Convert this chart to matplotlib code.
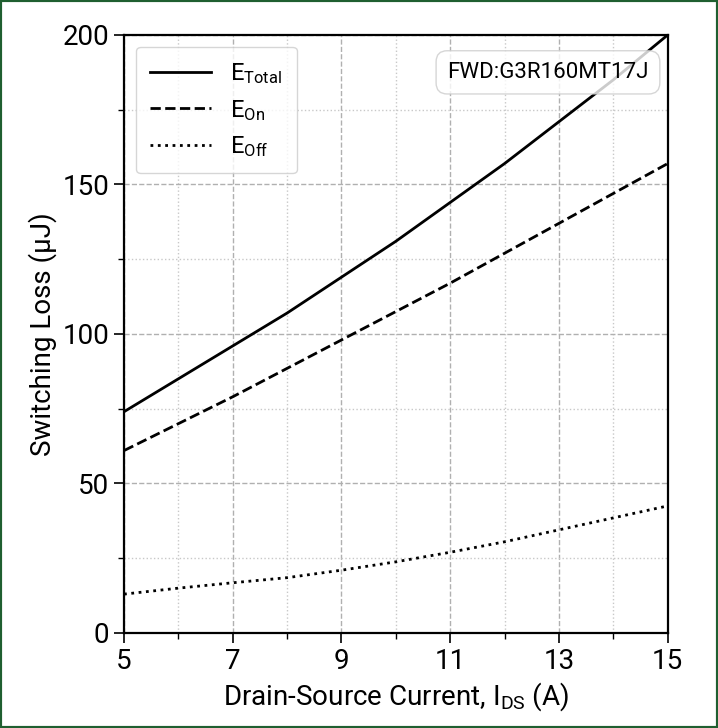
import matplotlib
matplotlib.use('Agg')
import matplotlib.pyplot as plt
from matplotlib.ticker import MultipleLocator
from matplotlib.patches import Rectangle

plt.rcParams['font.family'] = ['Liberation Sans Narrow', 'Roboto', 'DejaVu Sans']
plt.rcParams['mathtext.fontset'] = 'custom'
plt.rcParams['mathtext.rm'] = 'Roboto'
plt.rcParams['mathtext.it'] = 'Roboto'

# Daten ausgelesen
current = [5, 6, 7, 8, 9, 10, 11, 12, 13, 14, 15]
e_total = [74, 85, 96, 107, 119, 131, 144, 157, 171, 185, 200]
e_on = [61, 70, 79, 88.5, 98, 107.5, 117, 127, 137, 147, 157]
e_off = [13, 15, 16.8, 18.5, 21, 23.8, 27, 30.5, 34.5, 38.5, 42.5]
x_ticks = [5, 7, 9, 11, 13, 15]
device = 'FWD:G3R160MT17J'

fig = plt.figure(figsize=(7.18, 7.28), dpi=100)
ax = fig.add_axes([0.1727, 0.1305, 0.7573, 0.8215])

ax.plot(current, e_total, color='black', linestyle='-', linewidth=2, label=r'$\mathregular{E_{Total}}$')
ax.plot(current, e_on, color='black', linestyle='--', linewidth=2, label=r'$\mathregular{E_{On}}$')
ax.plot(current, e_off, color='black', linestyle=':', linewidth=2, label=r'$\mathregular{E_{Off}}$')

ax.set_xlim(5, 15)
ax.set_ylim(0, 200)
ax.set_xticks(x_ticks)
ax.set_xticks([6, 8, 10, 12, 14], minor=True)
ax.yaxis.set_major_locator(MultipleLocator(50))
ax.yaxis.set_minor_locator(MultipleLocator(25))
ax.tick_params(axis='both', which='major', labelsize=20, length=7, width=1.2)
ax.tick_params(axis='both', which='minor', length=4, width=1)
ax.grid(True, which='major', linestyle='--', color='#b0b0b0', linewidth=1)
ax.grid(True, which='minor', linestyle=':', color='#c8c8c8', linewidth=1)
for s in ax.spines.values():
    s.set_linewidth(1.6)

ax.set_xlabel(r'Drain-Source Current, $\mathregular{I_{DS}}$ (A)', fontsize=20)
ax.set_ylabel('Switching Loss (μJ)', fontsize=20)

ax.legend(loc='upper left', fontsize=17, handlelength=2.6, borderpad=0.6,
          labelspacing=0.5, fancybox=True, framealpha=0.8)
ax.text(0.965, 0.955, device, transform=ax.transAxes, ha='right', va='top', fontsize=16,
        bbox=dict(boxstyle='round,pad=0.5', facecolor='white', edgecolor='#cccccc', alpha=0.8))

# gruener Rahmen
fig.patches.append(Rectangle((0, 0), 1, 1, transform=fig.transFigure, fill=False,
                             edgecolor='#1f5f30', linewidth=3))

fig.savefig('out.png', dpi=100)
